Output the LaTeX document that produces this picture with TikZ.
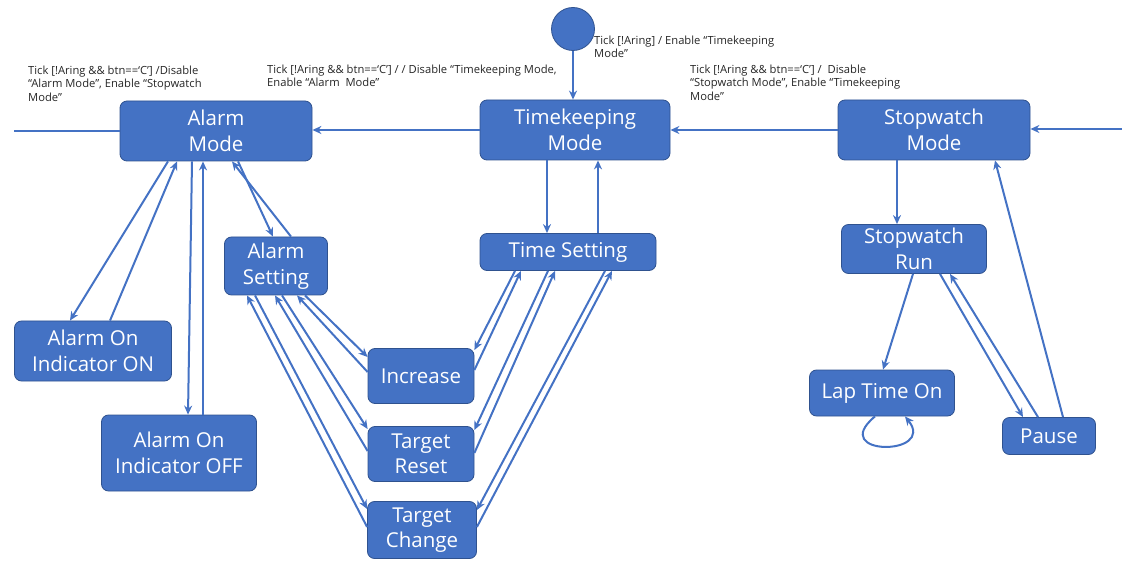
\documentclass[tikz,border=0pt]{standalone}
\usepackage{fontspec}
\setmainfont{Open Sans}
\usetikzlibrary{arrows.meta,calc}
\definecolor{stblue}{HTML}{4472C4}
\definecolor{stedge}{HTML}{2F528F}

\begin{document}
\begin{tikzpicture}[x=1pt,y=-1pt,
	state/.style={draw=stedge,line width=0.8pt,fill=stblue,rounded corners=7pt,text=white,
		font=\fontsize{20.5}{25.5}\selectfont,align=center,inner sep=0pt},
	lbl/.style={font=\fontsize{11.2}{13.2}\selectfont,align=left,anchor=north west,inner sep=0pt,text=black!85},
	move/.style={draw=stblue,line width=2pt,->},
	>={Stealth[length=9pt,width=8pt]}]
	\useasboundingbox (0,0) rectangle (1122,561);
	
	% modes
	\node[circle,fill=stblue,draw=stedge,line width=0.8pt,minimum size=43pt,inner sep=0pt] (init) at (573,29) {};
	\node[state,minimum width=192pt,minimum height=60pt] (am) at (216,131) {Alarm\\Mode};
	\node[state,minimum width=190pt,minimum height=60pt] (tk) at (575,130) {Timekeeping\\Mode};
	\node[state,minimum width=192pt,minimum height=60pt] (sw) at (934,130) {Stopwatch\\Mode};
	\coordinate (lout) at (14,129); \coordinate (rin) at (1122,129);
	
	% alarm side
	\node[state,minimum width=157pt,minimum height=60pt] (on) at (93,351) {Alarm On\\Indicator ON};
	\node[state,minimum width=155pt,minimum height=76pt] (off) at (179,453) {Alarm On\\Indicator OFF};
	\node[state,minimum width=103pt,minimum height=58pt] (as) at (276,266) {Alarm\\Setting};
	\node[state,minimum width=106pt,minimum height=55pt] (inc) at (421,376) {Increase};
	\node[state,minimum width=106pt,minimum height=55pt] (tr) at (421,454) {Target\\Reset};
	\node[state,minimum width=109pt,minimum height=57pt] (tc) at (422,530) {Target\\Change};
	\node[state,minimum width=176pt,minimum height=37pt] (ts) at (568,252) {Time Setting};
	
	% stopwatch side
	\node[state,minimum width=145pt,minimum height=49pt] (run) at (914,249) {Stopwatch\\Run};
	\node[state,minimum width=145pt,minimum height=46pt] (lap) at (882,393) {Lap Time On};
	\node[state,minimum width=93pt,minimum height=37pt] (pause) at (1049,436) {Pause};
	
	% guards
	\node[lbl] (l1) at (28,66) {Tick [!Aring \&\& btn==‘C’] /Disable\\“Alarm Mode”, Enable “Stopwatch\\Mode”};
	\node[lbl] (l2) at (267,65) {Tick [!Aring \&\& btn==‘C’] / / Disable “Timekeeping Mode,\\Enable “Alarm\ \ Mode”};
	\node[lbl] (l3) at (594,36) {Tick [!Aring] / Enable “Timekeeping\\Mode”};
	\node[lbl] (l4) at (690,65) {Tick [!Aring \&\& btn==‘C’] /\ \ Disable\\“Stopwatch Mode”, Enable “Timekeeping\\Mode”};
	
	% top row
	\draw[move] (init.south) -- (init.south |- tk.north);
	\draw[move] (tk.west) -- (tk.west -| am.east);
	\draw[move] (sw.west) -- (sw.west -| tk.east);
	\draw[move] (rin) -- (rin -| sw.east);
	\draw[move,-] (am.west) -- (am.west -| lout);
	
	% alarm mode
	\draw[move] ($(am.south)+(-48,0)$) -- ($(on.north)+(-23,0)$);
	\draw[move] ($(on.north)+(17,0)$) -- ($(am.south)+(-39,0)$);
	\draw[move] ($(am.south)+(-24,0)$) -- ($(off.north)+(9,0)$);
	\draw[move] ($(off.north)+(24,0)$) -- ($(am.south)+(-13,0)$);
	\draw[move] ($(am.south)+(22,0)$) -- ($(as.north)+(-3,0)$);
	\draw[move] ($(as.north)+(15,0)$) -- ($(am.south)+(16,0)$);
	
	% alarm setting
	\draw[move] ($(as.south)+(29,0)$) -- ($(inc.west)+(0,-19)$);
	\draw[move] ($(inc.west)+(0,-4)$) -- ($(as.south)+(21,0)$);
	\draw[move] ($(as.south)+(6,0)$) -- ($(tr.west)+(0,-25)$);
	\draw[move] ($(tr.west)+(0,-3)$) -- ($(as.south)+(-1,0)$);
	\draw[move] ($(as.south)+(-21,0)$) -- ($(tc.west)+(0,-21)$);
	\draw[move] ($(tc.west)+(0,-3)$) -- ($(as.south)+(-29,0)$);
	
	% time setting
	\draw[move] ($(tk.south)+(-28,0)$) -- ($(ts.north)+(-21,0)$);
	\draw[move] ($(ts.north)+(30,0)$) -- ($(tk.south)+(23,0)$);
	\draw[move] ($(ts.south)+(-53,0)$) -- ($(inc.east)+(0,-26)$);
	\draw[move] ($(inc.east)+(0,-6)$) -- ($(ts.south)+(-47,0)$);
	\draw[move] ($(ts.south)+(-20,0)$) -- ($(tr.east)+(0,-24)$);
	\draw[move] ($(tr.east)+(0,-1)$) -- ($(ts.south)+(-13,0)$);
	\draw[move] ($(ts.south)+(37,0)$) -- ($(tc.east)+(0,-20)$);
	\draw[move] ($(tc.east)+(0,-3)$) -- ($(ts.south)+(44,0)$);
	
	% stopwatch
	\draw[move] ($(sw.south)+(-37,0)$) -- ($(run.north)+(-17,0)$);
	\draw[move] ($(run.south)+(-1,0)$) -- ($(lap.north)+(1,0)$);
	\draw[move] ($(run.south)+(26,0)$) -- ($(pause.north)+(-26,0)$);
	\draw[move] ($(pause.north)+(-11,0)$) -- ($(run.south)+(36,0)$);
	\draw[move] ($(pause.north)+(14,0)$) -- ($(sw.south)+(61,0)$);
	\draw[move] ($(lap.south)+(-7,0)$) .. controls +(-48,40) and +(32,40) .. ($(lap.south)+(23,0)$);
\end{tikzpicture}
\end{document}
